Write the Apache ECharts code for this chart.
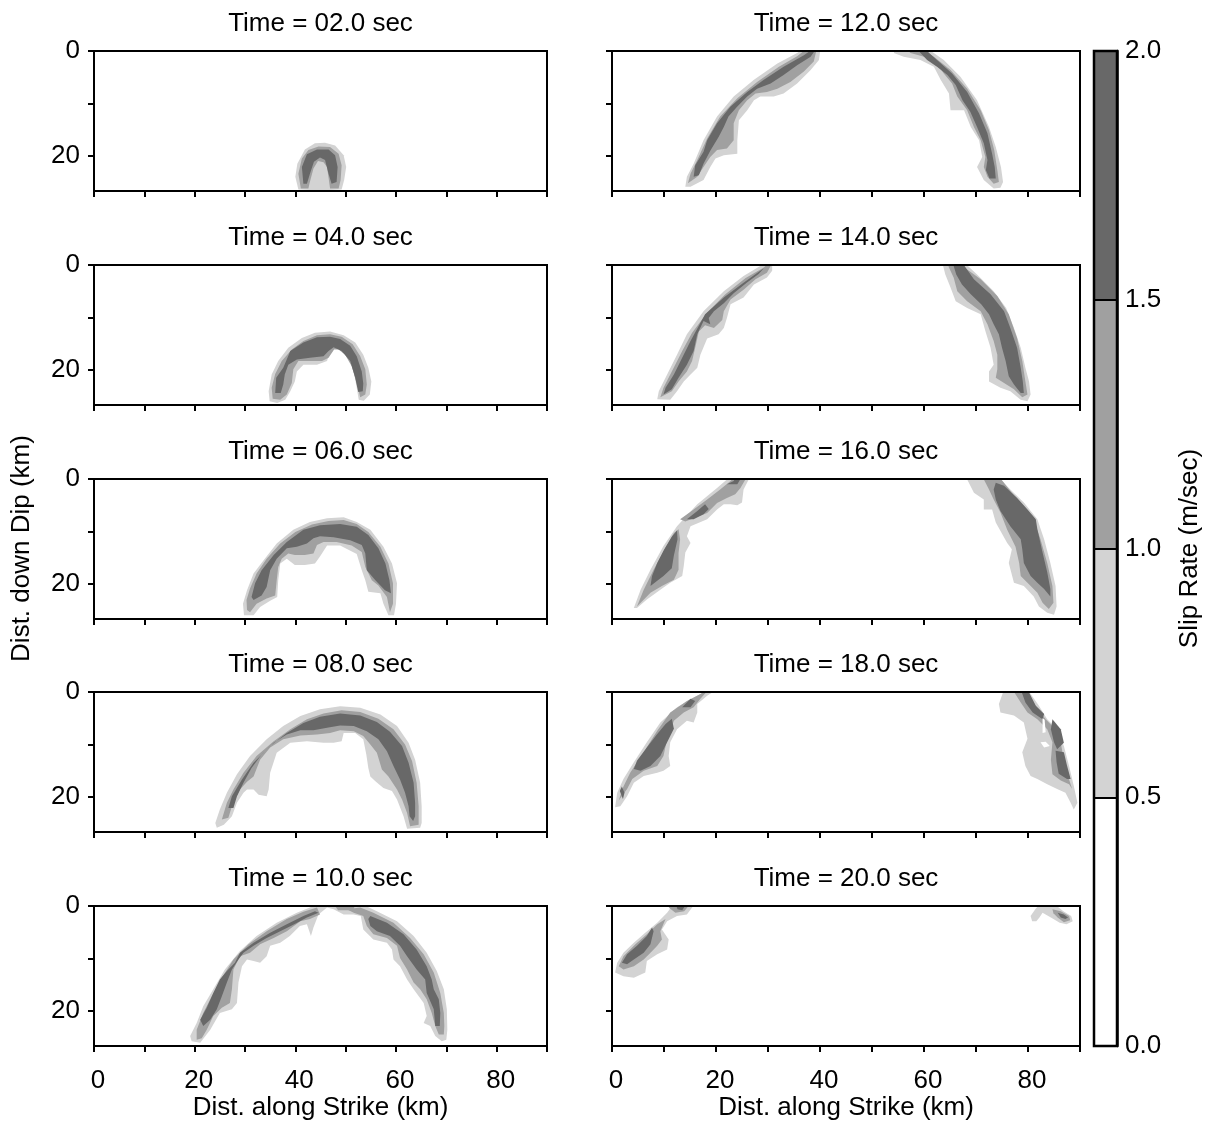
<!DOCTYPE html>
<html>
<head>
<meta charset="utf-8">
<script src="https://cdn.jsdelivr.net/npm/echarts@6/dist/echarts.min.js"></script>
<style>
  html, body { margin: 0; padding: 0; background: #ffffff; }
  #chart { width: 1205px; height: 1126px; }
</style>
</head>
<body>
<div id="chart"></div>
<script>
// Slip-rate snapshots on the fault plane. Every contour ring is a flat list
// of (along-strike km, down-dip km) pairs: x0,y0, x1,y1, ...
// Levels: light = 0.5-1.0, mid = 1.0-1.5, dark = 1.5-2.0 m/sec, hole = below 0.5 inside a band.

const snapshotTimes = ['02.0', '04.0', '06.0', '08.0', '10.0', '12.0', '14.0', '16.0', '18.0', '20.0'];
const strikeTicks = [0, 10, 20, 30, 40, 50, 60, 70, 80, 90];
const strikeLabels = [0, 20, 40, 60, 80];
const dipTicks = [0, 10, 20];
const dipLabels = [0, 20];
const slipEdges = [0, 0.5, 1.0, 1.5, 2.0];

// t = 2 s
const t02Light = [[40.6,26.4, 40.0,24.0, 40.4,21.5, 41.9,18.8, 43.9,17.6, 45.9,17.5, 47.9,18.0, 49.6,19.9, 50.1,22.1, 49.7,24.6, 49.2,26.4, 45.0,26.6]];
const t02Mid = [[41.1,26.2, 40.6,23.4, 41.3,20.5, 42.6,18.9, 44.6,18.2, 46.9,18.3, 48.6,19.6, 49.2,21.8, 49.0,24.6, 48.6,26.2, 46.9,26.2, 46.3,22.1, 45.6,21.2, 44.5,21.0, 43.6,22.4, 42.8,25.3, 42.6,26.2]];
const t02Dark = [[41.6,25.3, 41.3,22.1, 42.3,19.7, 44.3,18.8, 46.6,18.8, 47.9,19.9, 48.4,22.1, 48.2,25.0, 47.2,25.3, 46.6,23.4, 45.9,20.8, 44.9,20.3, 43.7,21.1, 42.9,23.4, 42.3,25.3]];

// t = 4 s
const t04Light = [[34.9,26.0, 34.7,24.1, 35.3,20.9, 36.6,18.3, 38.6,15.8, 41.3,13.9, 43.9,12.9, 46.9,12.7, 49.6,13.4, 51.9,14.8, 53.5,17.1, 54.5,19.6, 55.1,22.2, 54.8,24.7, 53.6,25.9, 52.6,25.7, 52.2,23.4, 51.6,20.3, 50.6,17.4, 48.9,15.8, 47.9,15.5, 46.9,16.4, 46.3,18.3, 44.3,19.0, 41.6,19.0, 40.3,20.3, 39.9,22.2, 39.0,24.1, 38.0,25.7, 36.4,26.3]];
const t04Mid = [[35.5,25.5, 35.3,23.4, 36.0,20.8, 37.3,18.3, 39.3,16.1, 41.6,14.5, 44.3,13.4, 46.9,13.2, 49.2,13.7, 51.4,15.1, 52.9,17.4, 53.9,19.9, 54.2,22.8, 53.9,24.7, 52.9,25.2, 52.1,22.2, 51.2,19.3, 49.9,17.1, 48.6,16.1, 47.7,16.1, 46.6,17.7, 45.3,18.3, 42.9,18.3, 40.6,18.3, 39.6,19.9, 39.3,22.5, 38.3,24.7, 37.0,25.7]];
const t04Dark = [[36.0,24.4, 36.2,21.5, 37.6,19.6, 39.0,16.4, 41.6,14.8, 44.3,13.8, 46.9,13.7, 48.9,14.1, 50.9,15.4, 52.2,17.4, 53.2,20.3, 53.5,22.6, 53.4,24.1, 52.5,24.2, 51.9,21.5, 50.9,18.3, 49.2,16.4, 47.6,15.7, 46.6,16.4, 45.6,17.4, 42.9,17.7, 40.3,18.0, 38.6,19.0, 37.9,20.9, 37.6,22.8, 37.1,24.4]];

// t = 6 s
const t06Light = [[29.8,26.0, 29.6,23.8, 30.4,21.2, 31.7,18.0, 33.7,15.5, 36.3,12.3, 39.6,9.7, 42.9,8.2, 46.3,7.5, 49.6,7.3, 52.2,8.2, 54.9,9.7, 57.5,12.9, 59.2,16.1, 60.2,19.9, 60.0,23.8, 59.6,26.0, 58.5,26.0, 57.5,23.8, 56.9,21.8, 54.5,21.5, 53.9,19.3, 53.2,17.4, 52.2,14.3, 48.9,12.7, 46.3,12.7, 44.9,14.8, 43.9,16.1, 41.9,16.4, 39.9,16.4, 38.3,15.2, 37.0,16.1, 36.6,19.3, 36.4,22.5, 35.0,23.2, 33.0,24.4, 31.7,26.0]];
const t06Mid = [[30.4,25.0, 30.3,23.1, 31.0,20.9, 32.3,18.0, 34.3,15.2, 37.0,12.3, 40.0,10.1, 43.3,8.7, 46.6,8.0, 49.6,7.8, 52.2,8.6, 54.5,10.1, 56.9,12.9, 58.5,16.1, 59.4,19.9, 59.4,23.8, 58.8,25.4, 58.2,22.5, 56.5,20.3, 55.2,19.3, 53.9,16.8, 53.2,13.9, 51.2,12.7, 48.2,12.0, 45.6,12.0, 44.3,12.6, 43.6,14.2, 41.9,14.5, 39.9,14.5, 38.6,14.2, 37.3,15.2, 36.6,16.8, 36.3,19.3, 36.0,22.2, 34.3,22.8, 32.3,23.8, 31.0,25.4]];
const t06Dark = [[31.3,22.5, 32.0,19.9, 33.3,17.4, 35.7,14.5, 38.3,12.0, 41.6,9.7, 44.9,8.8, 48.9,8.6, 52.2,9.1, 54.5,10.7, 56.5,13.2, 57.9,16.1, 58.7,19.3, 59.0,21.8, 57.8,21.2, 55.9,19.3, 54.2,17.4, 53.9,14.2, 53.2,12.6, 50.9,11.7, 47.6,11.1, 44.9,10.9, 43.6,11.3, 42.3,12.3, 40.3,12.9, 38.3,13.2, 36.3,15.2, 35.0,17.4, 34.3,20.6, 33.3,22.2, 31.7,23.1]];

// t = 8 s
const t08Light = [[24.4,25.9, 24.1,25.0, 25.0,22.4, 26.4,19.2, 28.4,15.7, 31.0,12.2, 34.3,9.0, 37.6,6.5, 41.0,4.6, 44.9,3.3, 48.9,2.7, 52.9,3.0, 56.9,4.3, 60.2,6.5, 62.5,9.7, 63.8,12.9, 64.8,17.3, 65.1,21.8, 65.1,25.0, 64.8,25.9, 62.2,26.1, 61.5,23.7, 60.2,20.5, 59.2,18.9, 57.5,18.3, 55.9,17.0, 54.9,16.1, 54.5,14.5, 54.1,11.9, 53.5,9.0, 51.9,7.8, 49.6,7.8, 49.2,9.4, 47.6,9.7, 45.6,9.7, 42.3,9.4, 39.0,9.7, 36.3,11.6, 35.0,15.4, 34.7,18.6, 34.3,19.9, 32.7,19.6, 31.7,18.6, 30.4,18.6, 29.7,19.2, 28.4,21.1, 27.4,23.7, 25.8,25.3]];
const t08Mid = [[25.4,24.3, 26.4,21.1, 27.7,18.6, 29.7,15.4, 32.3,12.2, 35.7,9.4, 39.0,7.1, 42.3,5.2, 45.6,4.1, 49.2,3.5, 52.9,3.8, 56.5,5.1, 59.5,7.1, 61.8,10.0, 63.2,13.2, 64.1,17.3, 64.5,21.8, 64.5,25.3, 62.8,25.6, 62.2,23.1, 61.2,20.5, 60.2,18.6, 58.5,16.1, 57.2,14.8, 56.2,11.6, 54.9,10.0, 53.5,8.4, 51.6,7.5, 48.9,7.3, 46.9,7.8, 44.3,8.1, 41.0,8.3, 37.6,9.0, 35.0,10.6, 33.0,12.9, 31.7,16.1, 30.4,17.1, 29.0,18.6, 27.4,21.8, 26.7,24.0]];
const t08Dark = [[26.7,22.1, 27.4,19.9, 29.4,16.7, 31.7,13.5, 35.0,10.3, 38.3,7.8, 41.6,5.9, 44.9,4.7, 48.9,4.1, 52.9,4.5, 56.2,5.7, 58.8,7.6, 61.2,10.3, 62.5,13.5, 63.5,17.3, 63.8,21.1, 63.8,23.7, 63.4,24.6, 62.7,23.7, 62.5,21.8, 61.8,19.2, 60.8,16.7, 59.5,14.1, 58.2,11.3, 56.5,9.0, 54.2,7.5, 51.6,6.5, 48.9,6.4, 46.3,6.8, 43.6,7.3, 41.0,7.3, 38.3,8.1, 35.7,9.7, 33.3,11.9, 31.3,14.5, 29.7,17.3, 28.4,19.9, 27.7,22.1]];

// t = 10 s
const t10Light = [[19.4,25.8, 19.1,24.8, 20.4,22.3, 21.7,19.1, 23.7,15.9, 26.0,12.1, 29.0,8.6, 32.3,5.7, 36.3,3.2, 40.3,1.3, 42.9,0.3, 44.3,-0.5, 52.9,-0.5, 56.2,1.0, 60.2,2.9, 63.5,5.7, 66.1,8.9, 68.1,12.4, 69.5,15.9, 70.1,19.7, 70.2,23.6, 70.0,25.5, 69.1,25.8, 67.8,24.8, 66.8,22.9, 65.5,22.3, 66.1,21.0, 65.5,18.5, 63.5,15.9, 62.2,14.0, 60.8,11.5, 59.5,10.2, 59.2,8.3, 58.2,7.0, 55.5,6.4, 53.5,4.5, 53.0,1.9, 51.6,1.6, 49.6,1.6, 47.6,0.6, 46.3,0.3, 44.6,1.6, 43.6,4.1, 43.1,5.7, 42.3,3.5, 40.9,3.8, 38.9,5.7, 37.0,7.0, 35.0,7.6, 34.3,9.6, 33.0,10.8, 31.7,10.5, 30.4,10.2, 29.4,11.5, 28.7,14.6, 28.4,18.5, 27.4,19.7, 25.0,20.4, 23.1,23.6, 21.1,26.1]];
const t10Mid = [
  [20.4,25.5, 20.4,23.6, 21.7,20.4, 23.4,17.2, 25.4,13.7, 27.7,10.2, 30.7,7.3, 34.3,4.8, 38.3,2.5, 41.6,1.1, 44.3,0.3, 44.9,1.6, 42.9,2.5, 41.0,2.9, 38.3,4.8, 35.7,6.1, 33.0,7.3, 31.0,8.9, 29.0,9.6, 27.7,12.1, 27.4,15.9, 27.0,18.5, 25.4,19.4, 23.7,21.0, 22.4,23.6, 21.4,25.2],
  [52.9,0.3, 55.5,1.3, 59.5,3.2, 62.8,6.1, 65.5,9.2, 67.5,12.7, 68.8,16.6, 69.5,20.4, 69.6,22.9, 69.5,24.5, 68.5,24.5, 67.8,22.9, 67.1,20.4, 66.1,17.8, 64.8,15.9, 63.5,14.6, 62.2,12.1, 60.8,9.9, 60.2,7.6, 58.2,6.1, 55.5,5.4, 54.2,3.8, 53.5,1.9, 51.6,1.3, 50.2,0.6],
  [47.5,-0.5, 52.0,-0.5, 51.5,0.8, 48.5,0.8]
];
const t10Dark = [
  [21.7,22.9, 21.1,21.7, 22.4,19.4, 23.7,16.6, 25.0,14.0, 26.4,12.4, 28.0,10.8, 29.0,8.9, 31.7,7.0, 35.0,5.1, 38.3,3.5, 41.6,1.9, 43.9,1.0, 44.6,1.3, 42.3,2.2, 39.8,3.5, 37.0,4.8, 34.3,6.1, 31.7,7.6, 29.7,8.9, 28.7,10.2, 27.4,12.1, 26.4,14.6, 25.4,17.2, 24.4,19.7, 23.1,21.7],
  [54.9,1.9, 58.2,3.2, 61.5,5.4, 64.1,8.3, 66.1,11.5, 67.1,14.0, 67.5,15.9, 68.5,17.8, 68.8,20.4, 68.7,22.9, 67.8,22.9, 67.5,19.7, 66.1,16.6, 65.8,14.0, 64.1,12.1, 62.2,9.6, 60.8,7.6, 58.8,5.7, 56.2,4.8, 54.9,3.8, 54.5,2.5]
];

// t = 12 s
const t12Light = [
  [14.1,25.9, 14.4,24.0, 15.7,21.5, 17.6,17.0, 20.2,12.5, 23.4,8.7, 27.3,5.5, 31.8,2.4, 35.6,0.4, 36.9,-0.5, 40.1,-0.5, 39.8,1.7, 38.2,3.6, 35.6,6.2, 33.0,8.1, 31.1,8.7, 28.5,8.7, 27.3,9.4, 26.0,11.3, 24.4,13.2, 24.1,17.0, 24.1,19.6, 21.5,19.9, 19.9,20.5, 18.9,22.1, 17.6,24.6, 15.1,25.9],
  [54.2,0.4, 54.5,-0.5, 60.6,-0.5, 63.8,1.7, 67.0,4.9, 70.2,9.4, 72.5,14.5, 73.8,18.3, 74.8,22.1, 75.2,25.0, 74.7,26.1, 73.4,26.2, 71.5,24.6, 70.2,22.1, 71.2,20.2, 70.6,17.0, 69.0,14.5, 67.7,11.3, 65.1,11.3, 64.8,8.1, 63.2,5.5, 61.9,3.0, 59.3,1.7, 56.1,1.1]
];
const t12Mid = [
  [14.6,25.2, 15.1,23.4, 16.4,20.8, 18.3,16.7, 20.8,12.5, 24.1,9.0, 27.9,5.9, 32.1,3.0, 35.6,1.0, 37.5,-0.5, 39.4,-0.5, 38.8,2.0, 36.9,3.9, 34.3,5.9, 31.8,7.2, 29.8,7.8, 27.6,8.1, 26.0,9.4, 24.4,11.3, 23.4,13.8, 23.4,17.0, 22.1,18.6, 20.2,18.9, 18.9,20.2, 17.6,22.1, 16.4,24.0],
  [59.0,-0.5, 61.9,1.1, 65.1,3.6, 68.3,7.2, 70.9,11.3, 72.5,15.1, 73.5,18.9, 74.1,22.7, 74.4,25.0, 73.4,25.3, 72.2,24.0, 71.5,22.1, 71.8,20.2, 70.9,17.0, 69.6,14.5, 68.3,11.3, 66.4,8.7, 65.4,6.2, 63.8,4.3, 62.5,2.4, 60.0,1.1, 57.4,0.4, 56.5,-0.5]
];
const t12Dark = [
  [15.7,24.0, 16.0,21.8, 17.6,19.2, 18.3,17.0, 20.2,13.8, 22.8,10.6, 26.0,7.8, 29.2,5.5, 33.0,3.0, 36.9,0.8, 38.8,-0.5, 39.3,-0.5, 38.2,1.1, 35.6,2.7, 33.0,4.6, 30.5,6.2, 27.9,7.2, 26.0,8.7, 24.1,10.6, 22.4,12.5, 21.5,14.5, 20.5,16.4, 18.9,19.0, 17.6,21.5, 16.7,23.7],
  [60.0,-0.5, 62.5,1.7, 65.4,4.3, 68.3,7.8, 70.6,11.9, 72.2,15.7, 73.1,19.6, 73.6,22.1, 73.8,24.3, 72.6,24.3, 71.9,22.7, 72.2,20.8, 71.5,17.6, 70.2,14.5, 68.9,11.6, 67.4,9.4, 66.1,6.5, 64.5,4.6, 62.5,3.0, 60.6,1.7, 58.5,-0.5]
];

// t = 14 s
const t14Light = [
  [8.7,25.6, 9.0,24.1, 10.6,20.9, 12.5,17.1, 14.4,13.2, 17.6,8.8, 21.5,5.0, 25.3,2.1, 28.5,0.2, 29.5,-0.5, 30.8,-0.5, 30.8,1.1, 29.8,2.4, 27.3,3.7, 25.3,6.2, 22.8,7.5, 22.1,10.1, 21.5,12.0, 20.5,13.2, 18.3,14.0, 17.0,17.1, 16.4,19.6, 15.1,20.9, 13.8,22.2, 12.5,24.1, 11.2,25.7],
  [63.5,-0.5, 67.7,-0.5, 70.2,1.8, 73.4,5.0, 75.8,8.2, 77.3,12.0, 78.6,15.8, 79.5,19.6, 80.2,22.2, 80.5,24.7, 79.9,26.0, 78.6,25.7, 76.6,24.1, 74.7,23.4, 72.5,22.2, 72.5,20.3, 73.4,19.0, 72.8,15.8, 71.8,12.6, 70.9,9.4, 68.3,8.2, 66.1,6.9, 65.1,4.3, 64.1,1.8]
];
const t14Mid = [
  [9.3,25.2, 9.9,23.4, 11.5,20.3, 13.5,16.4, 15.4,12.9, 18.3,9.1, 21.8,5.6, 25.7,2.5, 29.2,0.5, 30.2,-0.5, 30.5,0.2, 29.8,1.5, 27.6,2.7, 25.3,4.7, 22.8,6.6, 21.5,8.8, 21.2,10.5, 19.6,12.0, 17.9,11.5, 16.7,12.7, 16.0,15.8, 15.4,18.3, 14.4,20.3, 12.8,22.2, 11.5,24.1],
  [66.4,-0.5, 70.9,2.7, 74.1,5.9, 76.3,9.4, 77.9,13.9, 78.9,18.3, 79.5,22.2, 79.9,24.7, 78.9,25.2, 77.3,23.7, 75.4,22.5, 73.8,21.5, 74.1,19.9, 74.1,17.1, 73.4,14.5, 72.2,11.3, 70.9,8.8, 68.3,6.9, 66.4,5.0, 65.7,2.4, 64.8,0.5, 64.5,-0.5]
];
const t14Dark = [
  [9.9,24.7, 10.3,23.4, 11.9,20.9, 13.5,17.7, 15.1,14.5, 17.9,9.4, 21.5,6.2, 25.3,3.4, 28.5,1.1, 29.2,0.6, 28.2,1.7, 25.9,3.4, 23.4,5.4, 21.5,7.3, 19.6,8.8, 18.6,10.1, 18.9,11.3, 17.6,10.7, 16.4,13.2, 15.7,16.4, 14.4,19.0, 12.8,21.5, 11.5,23.7],
  [65.5,-0.5, 67.3,-0.5, 69.6,2.7, 72.8,5.6, 75.4,8.8, 76.6,12.0, 77.9,15.8, 78.6,19.6, 79.0,22.2, 79.2,24.4, 78.6,24.4, 77.3,22.8, 76.3,21.2, 75.7,18.3, 75.0,15.8, 74.4,13.2, 73.4,11.3, 72.5,9.4, 71.0,7.5, 69.0,5.6, 67.3,3.7, 66.2,1.8]
];

// t = 16 s
const t16Light = [
  [4.2,24.6, 5.5,21.1, 7.4,17.3, 9.9,12.8, 12.5,9.0, 16.4,4.8, 20.2,1.7, 22.8,-0.5, 26.6,-0.5, 25.3,2.0, 25.0,4.5, 24.1,5.0, 22.8,4.8, 21.5,4.8, 20.2,5.8, 18.3,7.7, 15.1,9.0, 14.4,10.9, 15.1,12.2, 14.1,14.0, 13.8,16.6, 13.5,18.5, 11.2,19.8, 9.3,21.1, 6.7,23.0, 4.8,24.6],
  [68.0,-0.5, 74.1,-0.5, 76.6,2.0, 79.2,4.5, 81.8,7.7, 83.1,11.5, 84.3,16.0, 85.3,20.4, 85.5,24.3, 85.0,25.9, 83.7,25.5, 82.1,24.3, 81.1,22.4, 79.2,20.4, 77.3,19.8, 76.3,16.0, 76.9,13.4, 76.0,12.2, 73.8,8.3, 73.1,5.8, 71.5,5.8, 71.5,3.9, 69.6,2.6]
];
const t16Mid = [
  [4.8,24.3, 6.1,21.1, 8.0,17.3, 10.3,13.1, 11.9,10.3, 12.8,9.6, 13.1,11.5, 12.8,14.1, 12.8,17.3, 11.9,19.2, 9.6,20.4, 7.4,21.7, 5.8,23.3],
  [13.1,7.7, 15.7,5.8, 18.3,3.9, 20.8,2.0, 22.8,0.4, 23.5,-0.5, 26.0,-0.5, 24.7,1.7, 23.7,2.9, 22.1,3.6, 20.2,4.6, 18.3,6.5, 15.7,7.5, 14.1,8.1],
  [71.2,-0.5, 74.4,-0.5, 76.9,2.6, 79.2,5.1, 81.1,7.7, 82.4,11.5, 83.7,16.0, 84.7,20.4, 84.9,23.6, 84.0,24.8, 82.8,23.6, 81.8,21.7, 79.9,19.8, 78.6,18.5, 78.3,16.0, 77.6,12.9, 76.0,9.7, 74.7,6.4, 73.4,3.9, 72.5,2.0]
];
const t16Dark = [
  [7.4,20.4, 7.7,18.5, 8.7,16.0, 10.0,13.5, 11.5,11.0, 12.5,9.8, 12.6,11.5, 11.9,14.6, 11.5,17.0, 9.9,18.5, 8.7,19.4],
  [14.4,7.7, 16.4,6.1, 17.9,4.8, 18.6,5.7, 17.6,6.7, 15.7,7.7],
  [22.1,1.0, 23.4,0.4, 23.8,-0.5, 25.0,-0.5, 24.1,1.0],
  [73.8,0.7, 75.4,1.3, 77.9,3.6, 79.9,5.8, 81.5,7.7, 81.8,9.6, 82.8,14.0, 83.7,17.8, 84.3,21.0, 84.3,22.4, 83.1,21.0, 81.8,19.8, 80.5,18.5, 79.2,16.0, 78.9,13.4, 78.6,11.5, 76.6,9.0, 74.7,6.1, 73.8,3.9, 73.4,2.0]
];

// t = 18 s
const t18Light = [
  [0.6,22.0, 1.0,19.2, 2.2,16.6, 4.2,13.4, 6.7,9.6, 9.3,5.8, 12.5,2.9, 16.4,0.7, 18.9,-0.5, 20.2,-0.5, 18.3,0.7, 16.4,2.3, 16.4,3.9, 15.7,5.8, 14.4,5.5, 12.5,7.1, 11.2,9.6, 10.9,12.2, 11.2,14.1, 9.9,15.0, 8.7,15.4, 6.1,16.0, 4.2,17.3, 2.9,19.9, 1.6,21.8],
  [75.4,-0.5, 79.9,-0.5, 82.1,2.6, 83.7,5.2, 85.6,7.1, 86.9,10.3, 87.9,14.1, 88.8,17.9, 89.5,21.1, 88.8,22.4, 88.2,21.1, 87.2,19.2, 85.6,18.5, 83.7,17.6, 81.8,16.6, 80.5,16.0, 79.5,14.1, 78.9,11.5, 79.9,8.9, 79.2,5.8, 77.3,4.5, 74.7,3.9, 74.4,2.3]
];
const t18Mid = [
  [1.3,20.7, 2.2,18.0, 3.5,15.4, 6.1,11.5, 8.7,7.4, 11.2,3.9, 14.4,1.7, 17.0,0.4, 18.3,-0.5, 18.6,-0.5, 17.0,1.3, 15.7,2.9, 13.8,3.9, 11.9,5.5, 10.6,9.0, 9.9,12.2, 8.7,14.1, 6.1,15.0, 3.9,16.6, 2.9,18.5],
  [77.0,-0.5, 79.9,0.0, 81.8,3.2, 83.4,5.2, 85.0,6.8, 86.3,9.7, 86.9,12.9, 87.9,16.7, 88.5,18.5, 87.9,17.6, 86.3,16.9, 84.7,15.7, 84.4,12.9, 84.7,9.6, 83.7,7.1, 81.8,5.2, 79.9,3.9, 78.6,2.0]
];
const t18Dark = [
  [4.2,14.7, 4.8,13.1, 6.7,10.6, 8.7,8.0, 10.3,6.1, 11.5,5.1, 11.9,7.0, 10.6,9.6, 9.3,12.2, 7.4,14.1, 5.5,15.0],
  [1.5,18.9, 1.9,18.0, 2.4,19.2, 2.1,20.4],
  [13.5,2.9, 15.1,1.3, 16.0,1.7, 15.1,2.9],
  [78.6,-0.5, 79.9,-0.5, 81.5,2.6, 83.1,4.2, 82.8,5.2, 80.9,3.9, 79.5,2.0],
  [84.7,5.2, 86.3,7.1, 86.9,9.7, 85.6,10.9, 85.0,9.6, 84.4,7.1],
  [85.3,11.2, 86.9,11.5, 87.5,14.0, 88.2,16.6, 87.5,16.6, 85.9,15.6, 85.5,13.4]
];
const t18Hole = [
  [82.8,5.0, 83.2,5.3, 83.4,7.7, 82.8,7.8],
  [82.4,9.6, 83.4,9.5, 84.2,10.3, 83.1,10.6]
];

// t = 20 s
const t20Light = [
  [0.6,12.7, 1.0,10.8, 2.2,8.9, 4.2,7.0, 6.4,5.1, 8.7,3.2, 10.6,1.3, 11.9,-0.5, 16.0,-0.5, 14.4,1.6, 12.5,1.9, 10.6,2.9, 9.6,4.5, 10.9,6.4, 10.6,8.3, 8.7,9.2, 6.7,10.5, 6.4,12.7, 4.2,13.7, 2.2,13.4],
  [80.5,1.9, 81.4,0.6, 82.4,-0.5, 84.9,-0.5, 86.8,1.0, 88.3,1.9, 88.6,2.9, 87.4,3.5, 86.1,3.2, 84.4,2.2, 82.8,1.3, 82.2,2.2, 81.6,2.9, 80.8,2.9]
];
const t20Mid = [
  [1.3,11.5, 2.2,9.6, 4.5,7.3, 6.7,5.4, 8.7,3.5, 10.3,2.5, 9.3,4.8, 9.6,6.4, 8.7,7.6, 7.4,8.9, 6.1,10.2, 4.2,11.5, 2.2,12.1],
  [10.9,0.3, 12.5,-0.5, 15.1,-0.5, 13.9,1.0, 12.2,1.3],
  [84.7,0.6, 86.3,1.0, 87.9,1.9, 88.1,2.7, 86.9,3.1, 85.7,2.2, 84.9,1.4]
];
const t20Dark = [
  [1.9,10.8, 2.9,9.2, 4.8,7.6, 6.7,5.7, 7.7,4.1, 8.0,4.8, 7.4,7.3, 6.1,8.9, 4.2,10.2, 2.9,11.1],
  [12.2,-0.5, 14.4,-0.5, 13.5,0.8, 12.6,0.6],
  [85.7,1.3, 86.9,1.6, 87.7,2.2, 87.2,2.5, 86.3,2.2]
];

// ---- assembly ----------------------------------------------------------
const snapshots = [
  { light: t02Light, mid: t02Mid, dark: t02Dark },
  { light: t04Light, mid: t04Mid, dark: t04Dark },
  { light: t06Light, mid: t06Mid, dark: t06Dark },
  { light: t08Light, mid: t08Mid, dark: t08Dark },
  { light: t10Light, mid: t10Mid, dark: t10Dark },
  { light: t12Light, mid: t12Mid, dark: t12Dark },
  { light: t14Light, mid: t14Mid, dark: t14Dark },
  { light: t16Light, mid: t16Mid, dark: t16Dark },
  { light: t18Light, mid: t18Mid, dark: t18Dark, hole: t18Hole },
  { light: t20Light, mid: t20Mid, dark: t20Dark }
];

const FONT = '"Liberation Sans", Arial, sans-serif';
const FS = 26;
const bandColors = ['#ffffff', '#d3d3d3', '#a0a0a0', '#686868'];
const levelFill = { light: bandColors[1], mid: bandColors[2], dark: bandColors[3], hole: '#ffffff' };
const levelOrder = ['light', 'mid', 'dark', 'hole'];

const colLeft = [94, 612];
const colWidth = [453, 468];
const rowTop = [51, 265, 479, 692, 906];
const panelHeight = 140;
const DIP_MAX = 26.7;

const grids = [], xAxes = [], yAxes = [], series = [], titles = [];

snapshots.forEach((snap, i) => {
  const col = i < 5 ? 0 : 1;
  const row = i % 5;
  const left = colLeft[col], top = rowTop[row], width = colWidth[col];
  grids.push({
    left: left, top: top, width: width, height: panelHeight,
    show: true, borderColor: '#000', borderWidth: 2, backgroundColor: 'transparent', z: 5
  });
  const bottomRow = row === 4;
  xAxes.push({
    gridIndex: i, type: 'value', min: 0, max: 90, interval: 10, z: 6,
    axisLine: { show: true, onZero: false, lineStyle: { color: '#000', width: 2 } },
    axisTick: { show: true, length: 6, customValues: strikeTicks, lineStyle: { color: '#000', width: 2 } },
    axisLabel: {
      show: bottomRow, customValues: strikeLabels, margin: 22, padding: [0, 0, 0, 8],
      color: '#000', fontSize: FS, fontFamily: FONT
    },
    splitLine: { show: false },
    name: bottomRow ? 'Dist. along Strike (km)' : '',
    nameLocation: 'middle', nameGap: 49,
    nameTextStyle: { color: '#000', fontSize: FS, fontFamily: FONT }
  });
  yAxes.push({
    gridIndex: i, type: 'value', min: 0, max: DIP_MAX, interval: 10, inverse: true, z: 6,
    axisLine: { show: true, onZero: false, lineStyle: { color: '#000', width: 2 } },
    axisTick: { show: true, length: 6, customValues: dipTicks, lineStyle: { color: '#000', width: 2 } },
    axisLabel: {
      show: col === 0, customValues: dipLabels, margin: 14,
      color: '#000', fontSize: FS, fontFamily: FONT
    },
    splitLine: { show: false }
  });
  titles.push({
    text: 'Time = ' + snapshotTimes[i] + ' sec',
    left: left + width / 2, top: top - 40, textAlign: 'center', padding: 0,
    textStyle: { color: '#000', fontSize: FS, fontWeight: 'normal', fontFamily: FONT }
  });

  levelOrder.forEach((level, li) => {
    const rings = snap[level];
    if (!rings || !rings.length) return;
    series.push({
      type: 'custom', xAxisIndex: i, yAxisIndex: i, z: 2, silent: true, clip: true,
      data: rings.map((r, k) => [r[0], r[1], k]),
      renderItem: function (params, api) {
        const ring = rings[params.dataIndex];
        const pts = [];
        for (let p = 0; p < ring.length; p += 2) pts.push(api.coord([ring[p], ring[p + 1]]));
        const cs = params.coordSys;
        return {
          type: 'polygon', z2: li,
          shape: { points: pts },
          style: { fill: levelFill[level], stroke: null },
          clipPath: { type: 'rect', shape: { x: cs.x, y: cs.y, width: cs.width, height: cs.height } }
        };
      }
    });
  });
});

// Colour bar: stacked slices of slip rate, one per contour band.
const cbIndex = snapshots.length;
grids.push({ left: 1094, top: 51, width: 23, height: 995, show: true, borderColor: '#000', borderWidth: 2.5, backgroundColor: 'transparent', z: 5 });
xAxes.push({ gridIndex: cbIndex, type: 'category', data: ['slip'], show: false });
yAxes.push({
  gridIndex: cbIndex, type: 'value', min: slipEdges[0], max: slipEdges[slipEdges.length - 1], interval: 0.5,
  position: 'right', z: 6,
  axisLine: { show: true, lineStyle: { color: '#000', width: 2.5 } },
  axisTick: { show: true, inside: true, length: 23, lineStyle: { color: '#000', width: 2 } },
  axisLabel: { formatter: v => v.toFixed(1), margin: 8, color: '#000', fontSize: FS, fontFamily: FONT },
  splitLine: { show: false }
});
for (let b = 0; b < slipEdges.length - 1; b++) {
  series.push({
    type: 'bar', xAxisIndex: cbIndex, yAxisIndex: cbIndex, stack: 'slipBar', silent: true,
    barWidth: '100%', data: [slipEdges[b + 1] - slipEdges[b]],
    itemStyle: { color: bandColors[b] }
  });
}

const chart = echarts.init(document.getElementById('chart'), null, { renderer: 'canvas' });
chart.setOption({
  backgroundColor: '#ffffff',
  animation: false,
  title: titles,
  grid: grids,
  xAxis: xAxes,
  yAxis: yAxes,
  series: series,
  graphic: [
    {
      type: 'text', x: 22, y: 548.5, rotation: Math.PI / 2,
      style: { text: 'Dist. down Dip (km)', font: FS + 'px "Liberation Sans", Arial, sans-serif', fill: '#000',
               textAlign: 'center', textVerticalAlign: 'middle', align: 'center', verticalAlign: 'middle' }
    },
    {
      type: 'text', x: 1190, y: 548.5, rotation: Math.PI / 2,
      style: { text: 'Slip Rate (m/sec)', font: FS + 'px "Liberation Sans", Arial, sans-serif', fill: '#000',
               textAlign: 'center', textVerticalAlign: 'middle', align: 'center', verticalAlign: 'middle' }
    }
  ]
});
</script>
</body>
</html>
